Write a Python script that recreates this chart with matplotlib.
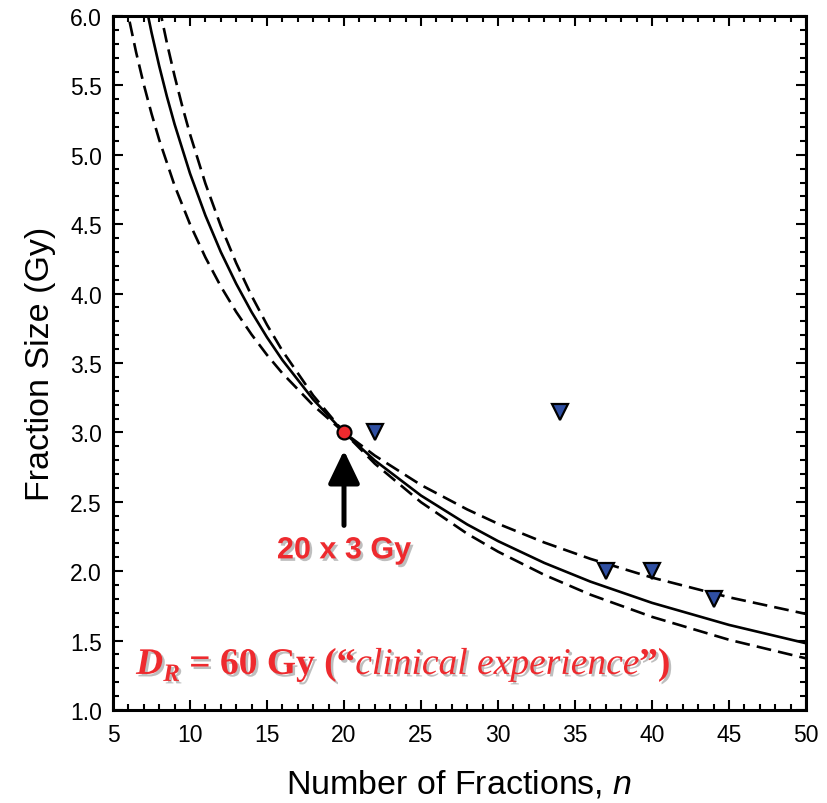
import matplotlib
matplotlib.use("Agg")
import matplotlib.pyplot as plt
import matplotlib.patheffects as pe
from matplotlib.ticker import MultipleLocator
from matplotlib.transforms import offset_copy

# ---- data ----
# solid isoeffect curve (middle)
n_solid = [7.0, 7.5, 8, 8.5, 9, 10, 11, 12, 13, 14, 15, 16, 18, 20, 22, 25, 28, 30, 33, 36, 40, 45, 50]
d_solid = [6.15, 5.882, 5.64, 5.42, 5.22, 4.866, 4.563, 4.30, 4.071, 3.867, 3.685, 3.521, 3.237, 3.0,
           2.798, 2.545, 2.337, 2.217, 2.060, 1.925, 1.772, 1.613, 1.481]
# dashed curve, upper at large n
n_dash_hi = [5.8, 6, 6.5, 7, 7.5, 8, 9, 10, 11, 12, 13, 14, 15, 16, 18, 20, 22, 25, 28, 30, 33, 36, 40, 45, 50]
d_dash_hi = [6.114, 6.0, 5.739, 5.506, 5.297, 5.108, 4.778, 4.5, 4.261, 4.052, 3.868, 3.705, 3.558, 3.426,
             3.195, 3.0, 2.833, 2.621, 2.445, 2.342, 2.207, 2.089, 1.954, 1.812, 1.692]
# dashed curve, lower at large n
n_dash_lo = [8, 8.5, 9, 9.5, 10, 11, 12, 13, 14, 15, 16, 18, 20, 22, 25, 28, 30, 33, 36, 40, 45, 50]
d_dash_lo = [6.068, 5.806, 5.567, 5.349, 5.149, 4.793, 4.487, 4.220, 3.984, 3.775, 3.588, 3.266, 3.0,
             2.775, 2.497, 2.270, 2.141, 1.974, 1.831, 1.671, 1.506, 1.372]
# triangle observations
tri_n = [22, 34, 37, 40, 44]
tri_d = [3.0, 3.15, 2.0, 2.0, 1.8]
# reference point
ref_n = [20]
ref_d = [3.0]

RED = "#EE2A2E"
BLUE = "#2F4FA2"

plt.rcParams["mathtext.fontset"] = "custom"
plt.rcParams["mathtext.it"] = "Liberation Sans:italic"
plt.rcParams["mathtext.rm"] = "Liberation Sans"

fig = plt.figure(figsize=(8.28, 8.04), dpi=100)
ax = fig.add_axes([113/828, 1-711/804, (806-113)/828, (711-17)/804])

ax.plot(n_solid, d_solid, color="black", lw=1.9, zorder=3)
ax.plot(n_dash_hi, d_dash_hi, color="black", lw=1.9, ls=(0, (5.6, 2.7)), zorder=3)
ax.plot(n_dash_lo, d_dash_lo, color="black", lw=1.9, ls=(0, (5.6, 2.7)), zorder=3)
ax.plot(tri_n, tri_d, ls="none", marker="v", ms=12, mfc=BLUE, mec="black", mew=1.6, zorder=5)
ax.plot(ref_n, ref_d, ls="none", marker="o", ms=10, mfc=RED, mec="black", mew=1.6, zorder=6)

ax.set_xlim(5, 50)
ax.set_ylim(1.0, 6.0)
ax.xaxis.set_major_locator(MultipleLocator(5))
ax.xaxis.set_minor_locator(MultipleLocator(1))
ax.yaxis.set_major_locator(MultipleLocator(0.5))
ax.yaxis.set_minor_locator(MultipleLocator(0.1))
ax.yaxis.set_major_formatter(matplotlib.ticker.FormatStrFormatter("%.1f"))
ax.tick_params(which="both", direction="in", top=True, right=True, width=1.5, color="black")
ax.tick_params(which="major", length=7)
ax.tick_params(which="minor", length=4)
ax.tick_params(axis="both", labelsize=16.5)
ax.tick_params(axis="x", pad=9)
ax.tick_params(axis="y", pad=8)
for lab in ax.get_xticklabels() + ax.get_yticklabels():
    lab.set_fontfamily("Liberation Sans")
for sp in ax.spines.values():
    sp.set_linewidth(2.2)

ax.set_xlabel("Number of Fractions, $\\mathit{n}$", fontsize=24.5, family="Liberation Sans", labelpad=16)
ax.set_ylabel("Fraction Size (Gy)", fontsize=24.5, family="Liberation Sans", labelpad=10)

shadow = [pe.withSimplePatchShadow(offset=(1.8, -1.8), shadow_rgbFace="#8a8a8a", alpha=0.55)]

# arrow
ax.annotate("", xy=(20, 2.87), xytext=(20, 2.33),
            arrowprops=dict(arrowstyle="-|>,head_length=1.0,head_width=0.48", lw=3.6, color="black",
                            shrinkA=0, shrinkB=0, mutation_scale=20), zorder=4)
ax.text(20, 2.15, "20 x 3 Gy", color=RED, fontsize=22, fontweight="bold", family="Liberation Sans",
        ha="center", va="center", path_effects=shadow)

# composite label
fig.canvas.draw()
renderer = fig.canvas.get_renderer()
pieces = [
    ("D", dict(fontsize=27, fontweight="bold", fontstyle="italic"), 0),
    ("R", dict(fontsize=18, fontweight="bold", fontstyle="italic"), -7),
    (" = 60 Gy (\u201c", dict(fontsize=27, fontweight="bold"), 0),
    ("clinical experience", dict(fontsize=27, fontstyle="italic"), 0),
    ("\u201d)", dict(fontsize=27, fontweight="bold"), 0),
]
x0, y0 = 6.5, 1.26
dx = 0.0
for txt, kw, dy in pieces:
    tr = offset_copy(ax.transData, fig=fig, x=dx, y=dy, units="dots")
    t = ax.text(x0, y0, txt, color=RED, family="Liberation Serif", ha="left", va="baseline",
                transform=tr, path_effects=shadow, **kw)
    bb = t.get_window_extent(renderer)
    dx += bb.width

fig.savefig("out.png", dpi=100)
